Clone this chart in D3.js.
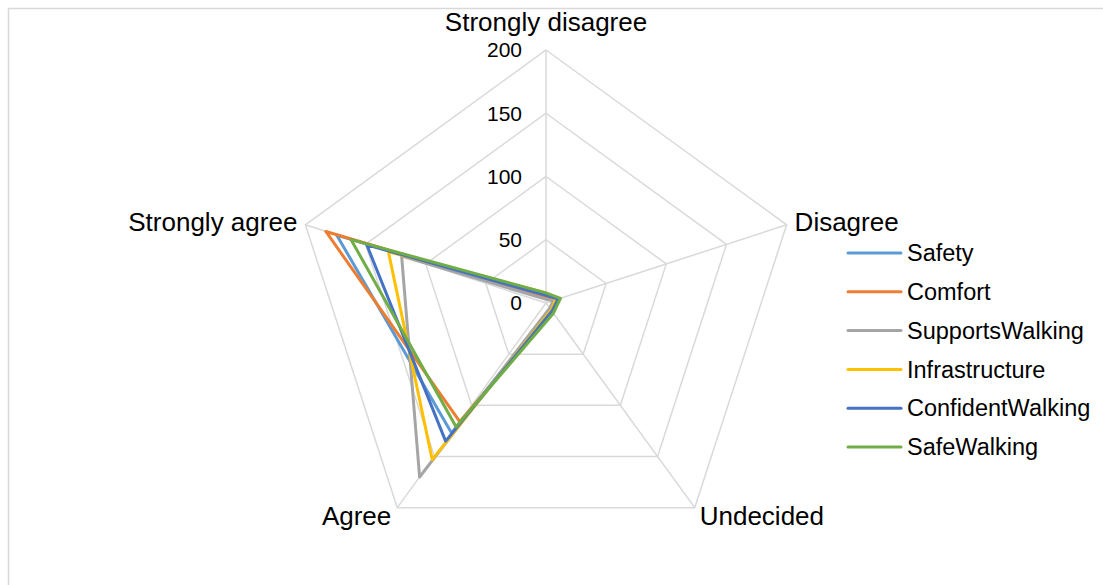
<!DOCTYPE html>
<html>
<head>
<meta charset="utf-8">
<script src="https://cdn.jsdelivr.net/npm/d3@7"></script>
<style>
  html, body { margin: 0; padding: 0; background: #fff; }
  svg { display: block; font-family: "Liberation Sans", Arial, sans-serif; }
</style>
</head>
<body>
<svg id="chart" width="1103" height="585"></svg>
<script>
// Likert response categories, clockwise from the top
const categories = ["Strongly disagree", "Disagree", "Undecided", "Agree", "Strongly agree"];

const seriesNames = ["Safety", "Comfort", "SupportsWalking", "Infrastructure", "ConfidentWalking", "SafeWalking"];

// Response counts per category
const safety           = [4, 8, 7, 127, 174];
const comfort          = [5, 9, 9, 116, 183];
const supportsWalking  = [3, 6, 5, 170, 120];
const infrastructure   = [8, 8, 7, 153, 131];
const confidentWalking = [6, 10, 8, 135, 149];
const safeWalking      = [8, 12, 10, 121, 162];

const tickValues = [0, 50, 100, 150, 200];

const seriesValues = [safety, comfort, supportsWalking, infrastructure, confidentWalking, safeWalking];
const colors = ["#5B9BD5", "#ED7D31", "#A5A5A5", "#FFC000", "#4472C4", "#70AD47"];

const svg = d3.select("#chart");

// chart area border
svg.append("rect")
  .attr("x", 8.5).attr("y", 8.5)
  .attr("width", 1120).attr("height", 600)
  .attr("fill", "none").attr("stroke", "#d9d9d9").attr("stroke-width", 1.5);

const cx = 546, cy = 303;
const r = d3.scaleLinear().domain([0, 200]).range([0, 253]);
const angle = d3.scalePoint().domain(categories).range([0, 2 * Math.PI * (categories.length - 1) / categories.length]);

function pt(cat, v) {
  const a = angle(cat);
  return [cx + r(v) * Math.sin(a), cy - r(v) * Math.cos(a)];
}

const g = svg.append("g");

// grid rings
tickValues.filter(t => t > 0).forEach(t => {
  g.append("path")
    .attr("d", d3.line()(categories.map(c => pt(c, t))) + "Z")
    .attr("fill", "none").attr("stroke", "#d9d9d9").attr("stroke-width", 1.5);
});

// spokes
categories.forEach(c => {
  const p = pt(c, 200);
  g.append("line")
    .attr("x1", cx).attr("y1", cy).attr("x2", p[0]).attr("y2", p[1])
    .attr("stroke", "#d9d9d9").attr("stroke-width", 1.5);
});

// tick labels along the top spoke
g.selectAll("text.tick").data(tickValues).join("text")
  .attr("class", "tick")
  .attr("x", cx - 24)
  .attr("y", d => cy - r(d))
  .attr("dy", "0.35em")
  .attr("text-anchor", "end")
  .attr("font-size", 21)
  .attr("fill", "#000")
  .text(d => d);

// category labels
const labelPos = {
  "Strongly disagree": { dx: 0, dy: -28, anchor: "middle" },
  "Disagree": { dx: 8, dy: -3, anchor: "start" },
  "Undecided": { dx: 5, dy: 8, anchor: "start" },
  "Agree": { dx: -6, dy: 8, anchor: "end" },
  "Strongly agree": { dx: -8, dy: -3, anchor: "end" }
};
categories.forEach(c => {
  const p = pt(c, 200);
  const o = labelPos[c];
  g.append("text")
    .attr("x", p[0] + o.dx)
    .attr("y", p[1] + o.dy)
    .attr("dy", "0.35em")
    .attr("text-anchor", o.anchor)
    .attr("font-size", 26)
    .attr("fill", "#000")
    .text(c);
});

// series polygons
const lineGen = d3.line();
seriesValues.forEach((vals, i) => {
  g.append("path")
    .attr("d", lineGen(categories.map((c, j) => pt(c, vals[j]))) + "Z")
    .attr("fill", "none")
    .attr("stroke", colors[i])
    .attr("stroke-width", 3)
    .attr("stroke-linejoin", "round");
});

// legend
const legend = svg.append("g").attr("transform", "translate(848, 253)");
seriesNames.forEach((name, i) => {
  const row = legend.append("g").attr("transform", `translate(0, ${i * 38.8})`);
  row.append("line")
    .attr("x1", 0).attr("x2", 53).attr("y1", 0).attr("y2", 0)
    .attr("stroke", colors[i]).attr("stroke-width", 3).attr("stroke-linecap", "round");
  row.append("text")
    .attr("x", 59).attr("y", 0).attr("dy", "0.35em")
    .attr("font-size", 23.5)
    .attr("fill", "#000")
    .text(name);
});
</script>
</body>
</html>
